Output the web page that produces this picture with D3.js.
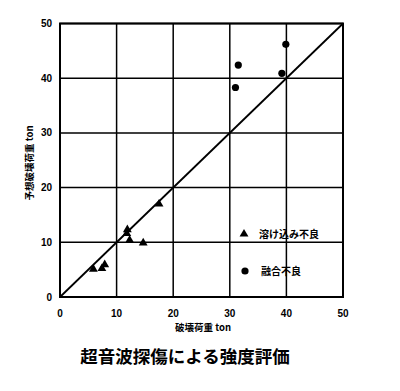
<!DOCTYPE html>
<html>
<head>
<meta charset="utf-8">
<script src="https://cdn.jsdelivr.net/npm/d3@7"></script>
<style>
  body { margin: 0; background: #fff; }
  svg { display: block; }
</style>
</head>
<body>
<div id="chart"></div>
<script>
// 溶け込み不良 (triangles)
var triX = [17.5, 11.9, 11.8, 12.3, 14.7, 5.9, 7.4, 7.9];
var triY = [17.0, 12.3, 11.6, 10.4, 9.9, 5.1, 5.2, 5.9];
// 融合不良 (circles)
var cirX = [31.5, 31.0, 39.2, 39.9];
var cirY = [42.4, 38.3, 40.9, 46.2];

var ticks = [0, 10, 20, 30, 40, 50];
var legendNames = ["溶け込み不良", "融合不良"];

var width = 400, height = 391;
var svg = d3.select("#chart")
  .append("svg")
  .attr("width", width)
  .attr("height", height);

var x = d3.scaleLinear().domain([0, 50]).range([60, 343]);
var y = d3.scaleLinear().domain([0, 50]).range([297, 23.5]);

var labelFont = "'Liberation Sans', Arial, sans-serif";
var cjkFont = "'Noto Sans CJK JP', sans-serif";

// grid
svg.selectAll(".gx")
  .data(ticks)
  .enter()
  .append("line")
  .attr("x1", function(d) { return x(d); })
  .attr("x2", function(d) { return x(d); })
  .attr("y1", y(0))
  .attr("y2", y(50))
  .attr("stroke", "#000")
  .attr("stroke-width", 1.5);

svg.selectAll(".gy")
  .data(ticks)
  .enter()
  .append("line")
  .attr("x1", x(0))
  .attr("x2", x(50))
  .attr("y1", function(d) { return y(d); })
  .attr("y2", function(d) { return y(d); })
  .attr("stroke", "#000")
  .attr("stroke-width", 1.5);

// frame
svg.append("rect")
  .attr("x", x(0))
  .attr("y", y(50))
  .attr("width", x(50) - x(0))
  .attr("height", y(0) - y(50))
  .attr("fill", "none")
  .attr("stroke", "#000")
  .attr("stroke-width", 2);

// 1:1 line
svg.append("line")
  .attr("x1", x(0))
  .attr("y1", y(0))
  .attr("x2", x(50))
  .attr("y2", y(50))
  .attr("stroke", "#000")
  .attr("stroke-width", 1.8);

// tick labels
svg.selectAll(".tx")
  .data(ticks)
  .enter()
  .append("text")
  .attr("x", function(d) { return x(d); })
  .attr("y", 317)
  .attr("text-anchor", "middle")
  .style("font-family", labelFont)
  .style("font-weight", "bold")
  .style("font-size", "10px")
  .text(function(d) { return d; });

svg.selectAll(".ty")
  .data(ticks)
  .enter()
  .append("text")
  .attr("x", 52)
  .attr("y", function(d) { return y(d) + 3.5; })
  .attr("text-anchor", "end")
  .style("font-family", labelFont)
  .style("font-weight", "bold")
  .style("font-size", "10px")
  .text(function(d) { return d; });

// axis titles
svg.append("text")
  .attr("x", 203)
  .attr("y", 331)
  .attr("text-anchor", "middle")
  .style("font-family", cjkFont)
  .style("font-weight", "bold")
  .style("font-size", "9.5px")
  .text("破壊荷重 ton");

svg.append("text")
  .attr("transform", "translate(33,163) rotate(-90)")
  .attr("text-anchor", "middle")
  .style("font-family", cjkFont)
  .style("font-weight", "bold")
  .style("font-size", "9.5px")
  .text("予想破壊荷重 ton");

// points
var triangle = d3.symbol().type(d3.symbolTriangle).size(34);

svg.selectAll(".tri")
  .data(triX)
  .enter()
  .append("path")
  .attr("d", triangle)
  .attr("transform", function(d, i) {
    return "translate(" + x(d) + "," + y(triY[i]) + ")";
  })
  .attr("fill", "#000");

svg.selectAll(".cir")
  .data(cirX)
  .enter()
  .append("circle")
  .attr("cx", function(d) { return x(d); })
  .attr("cy", function(d, i) { return y(cirY[i]); })
  .attr("r", 3.6)
  .attr("fill", "#000");

// legend
svg.append("path")
  .attr("d", triangle)
  .attr("transform", "translate(244,234)")
  .attr("fill", "#000");
svg.append("circle")
  .attr("cx", 245)
  .attr("cy", 271)
  .attr("r", 3.6)
  .attr("fill", "#000");

svg.selectAll(".leg")
  .data(legendNames)
  .enter()
  .append("text")
  .attr("x", function(d, i) { return i === 0 ? 259 : 261; })
  .attr("y", function(d, i) { return i === 0 ? 237.5 : 274.5; })
  .style("font-family", cjkFont)
  .style("font-weight", "bold")
  .style("font-size", "10px")
  .text(function(d) { return d; });

// caption
svg.append("text")
  .attr("x", 185)
  .attr("y", 363)
  .attr("text-anchor", "middle")
  .style("font-family", cjkFont)
  .style("font-weight", "bold")
  .style("font-size", "17.5px")
  .text("超音波探傷による強度評価");
</script>
</body>
</html>
